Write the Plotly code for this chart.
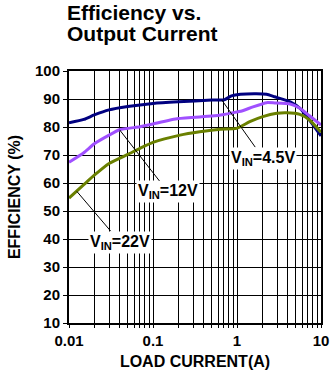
import math
import plotly.graph_objects as go

# Data
x_45 = [0.01, 0.015, 0.02, 0.03, 0.05, 0.1, 0.2, 0.5, 0.7, 0.86, 1.1, 1.7, 2.25, 2.8, 4.3, 5.6, 7.3, 10]
y_45 = [81.5, 82.7, 84.3, 86.1, 87.3, 88.4, 89.0, 89.6, 89.7, 91.1, 91.7, 91.9, 91.7, 90.8, 89.0, 86.7, 82.5, 76.8]

x_12 = [0.01, 0.015, 0.02, 0.03, 0.04, 0.07, 0.1, 0.2, 0.5, 0.7, 0.86, 1.14, 1.55, 2.25, 2.8, 4.3, 5.6, 7.3, 10]
y_12 = [67.4, 70.8, 74.0, 77.1, 79.0, 80.1, 81.1, 83.0, 83.9, 84.5, 85.0, 85.7, 87.2, 88.7, 88.6, 88.2, 86.7, 84.0, 80.7]

x_22 = [0.01, 0.015, 0.02, 0.03, 0.05, 0.07, 0.1, 0.21, 0.36, 0.63, 0.99, 1.42, 2.03, 2.98, 3.9, 5.6, 7.3, 10]
y_22 = [54.6, 59.4, 62.8, 67.0, 70.2, 72.4, 74.5, 77.1, 78.3, 79.2, 79.5, 81.9, 83.7, 84.9, 85.1, 84.5, 82.5, 78.1]

series_names = ["V<sub>IN</sub>=4.5V", "V<sub>IN</sub>=12V", "V<sub>IN</sub>=22V"]
colors = ["#000080", "#A050FF", "#6A8000"]

# label anchor points (on curve) and text positions (data coords)
label_point_x = [0.66, 0.04, 0.0124]
label_point_y = [89.6, 79.0, 57.0]
label_text_x = [2.04, 0.151, 0.0405]
label_text_y = [68.9, 56.8, 38.9]

x_major = [0.01, 0.1, 1, 10]
x_major_text = ["0.01", "0.1", "1", "10"]
y_ticks = [10, 20, 30, 40, 50, 60, 70, 80, 90, 100]

title_lines = ["Efficiency vs.", "Output Current"]

x_minor = [round(d * m, 4) for d in [0.01, 0.1, 1] for m in range(2, 10)]

FONT = "Liberation Sans, Arial, sans-serif"
PLOT_H = 374 - 71 - 51

fig = go.Figure()
for xs, ys, c in [(x_45, y_45, colors[0]), (x_12, y_12, colors[1]), (x_22, y_22, colors[2])]:
    fig.add_trace(go.Scatter(x=xs, y=ys, mode="lines",
                             line=dict(color=c, width=3, shape="spline", smoothing=0.5),
                             showlegend=False, hoverinfo="skip"))

for i in range(3):
    fig.add_annotation(x=math.log10(label_point_x[i]), y=label_point_y[i],
                       ax=math.log10(label_text_x[i]), ay=label_text_y[i],
                       xref="x", yref="y", axref="x", ayref="y",
                       text=series_names[i], showarrow=True, arrowhead=0,
                       arrowwidth=1, arrowcolor="black",
                       bgcolor="white", borderpad=1,
                       font=dict(family=FONT, size=16, color="black", weight="bold"))

# title lines as paper annotations
for k, line in enumerate(title_lines):
    top_px = 0 + 21 * k
    fig.add_annotation(text=line, xref="paper", yref="paper",
                       x=-0.01, y=1 + (71 - top_px) / PLOT_H, xanchor="left", yanchor="top",
                       showarrow=False, align="left", borderpad=0,
                       font=dict(family=FONT, size=21, color="black", weight="bold"))

fig.update_layout(
    width=332, height=374,
    margin=dict(l=69, r=11, t=71, b=51),
    plot_bgcolor="white", paper_bgcolor="white",
    xaxis=dict(type="log", range=[-2, 1], tickvals=x_major, ticktext=x_major_text,
               showgrid=True, gridcolor="black", gridwidth=1,
               minor=dict(tickvals=x_minor, showgrid=True, gridcolor="black", gridwidth=1,
                          ticks="outside", ticklen=3, tickcolor="black"),
               showline=True, linecolor="black", linewidth=2, mirror=True,
               ticks="outside", ticklen=3, tickcolor="black", automargin=False,
               tickfont=dict(family=FONT, size=15, color="black", weight="bold"),
               title=dict(text="LOAD CURRENT(A)", standoff=8,
                          font=dict(family=FONT, size=16, color="black", weight="bold")),
               zeroline=False),
    yaxis=dict(range=[10, 100], tickvals=y_ticks,
               showgrid=True, gridcolor="black", gridwidth=1,
               showline=True, linecolor="black", linewidth=2, mirror=True,
               ticks="outside", ticklen=4, tickcolor="black", automargin=False,
               tickfont=dict(family=FONT, size=15, color="black", weight="bold"),
               title=dict(text="EFFICIENCY (%)", standoff=10,
                          font=dict(family=FONT, size=16, color="black", weight="bold")),
               zeroline=False),
)

fig.write_html("out.html")
